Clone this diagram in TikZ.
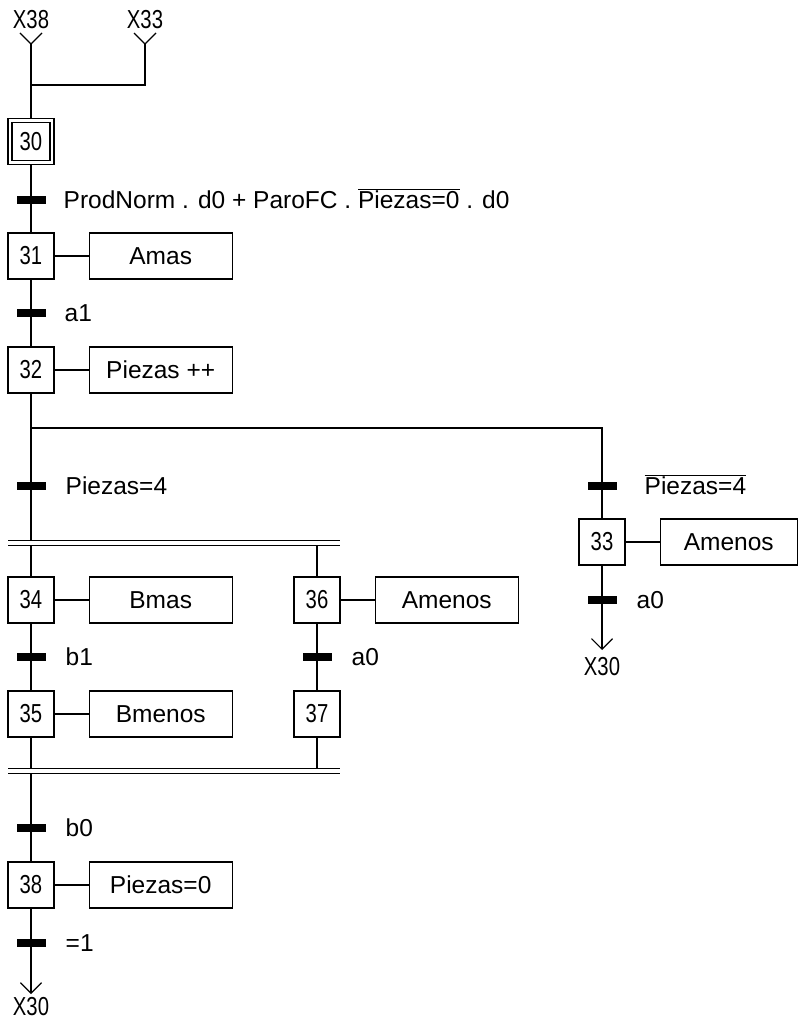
\documentclass[tikz,border=0pt]{standalone}
\usepackage{fontspec}
\setmainfont{Liberation Sans}
\newfontfamily\angosta[FakeStretch=0.78]{Liberation Sans}
\usetikzlibrary{
    arrows.meta,
    positioning
}

\begin{document}
\begin{tikzpicture}[
    x=1pt, y=-1pt,
    line width=1.2pt,
    node distance=34pt,
    etapa/.style={
        draw,
        minimum width=46pt,
        minimum height=46pt,
        inner sep=0pt,
        font=\angosta\fontsize{26}{30}\selectfont
    },
    etapaini/.style={
        etapa,
        double,
        double distance=2.8pt,
        minimum width=42pt,
        minimum height=42pt
    },
    accion/.style={
        draw,
        minimum width=143pt,
        minimum height=46pt,
        inner sep=0pt,
        font=\fontsize{24.5}{29}\selectfont
    },
    barra/.style={
        fill=black,
        minimum width=29pt,
        minimum height=8pt,
        inner sep=0pt
    },
    cond/.style={
        inner sep=0pt,
        text height=18pt,
        text depth=2pt,
        font=\fontsize{24.5}{29}\selectfont
    },
    etiq/.style={
        inner sep=0pt,
        font=\angosta\fontsize{26}{30}\selectfont
    },
    simult/.style={double, double distance=4.5pt},
    flecha/.style={-{Straight Barb[length=10.5pt, width=21pt]}}
]

\useasboundingbox (0,0) rectangle (798,1022);

% entradas
\node[etiq] (x38) at (31,20) {X38};
\node[etiq] (x33) at (145,20) {X33};
\coordinate (v38) at (31,44);
\coordinate (v33) at (145,44);
\coordinate (union) at (31,85);

\node[etapaini] (e30) at (31,141.5) {30};

\node[barra] (t1) at (31,200) {};
\node[cond, right=17pt of t1] (c1)
{ProdNorm . d0 + ParoFC . $\overline{\mbox{Piezas=0}}$ . d0};

\node[etapa] (e31) at (31,256) {31};
\node[accion, right=of e31] (a31) {Amas};

\node[barra] (t2) at (31,313) {};
\node[cond, right=18pt of t2] (c2) {a1};

\node[etapa] (e32) at (31,370) {32};
\node[accion, right=of e32] (a32) {Piezas ++};

% divergencia en O
\coordinate (div) at (31,428);
\coordinate (div33) at (602,428);

\node[barra] (t3) at (31,486) {};
\node[cond, right=19pt of t3] (c3) {Piezas=4};

\node[barra] (t4) at (602,486) {};
\node[cond, right=27pt of t4] (c4) {$\overline{\mbox{Piezas=4}}$};

\node[etapa] (e33) at (602,542) {33};
\node[accion, minimum width=137pt, right=of e33] (a33) {Amenos};

\node[barra] (t9) at (602,600) {};
\node[cond, right=19pt of t9] (c9) {a0};

\coordinate (fin33) at (602,650);
\node[etiq] (x30b) at (602,667) {X30};

% divergencia en Y
\coordinate (p1w) at (8,543);
\coordinate (p1e) at (340,543);

\node[etapa] (e34) at (31,600) {34};
\node[accion, right=of e34] (a34) {Bmas};
\node[etapa] (e36) at (317,600) {36};
\node[accion, right=of e36] (a36) {Amenos};

\node[barra] (t5) at (31,657) {};
\node[cond, right=19pt of t5] (c5) {b1};
\node[barra] (t6) at (317,657) {};
\node[cond, right=19pt of t6] (c6) {a0};

\node[etapa] (e35) at (31,714) {35};
\node[accion, right=of e35] (a35) {Bmenos};
\node[etapa] (e37) at (317,714) {37};

% convergencia en Y
\coordinate (p2w) at (8,771);
\coordinate (p2e) at (340,771);

\node[barra] (t7) at (31,828) {};
\node[cond, right=19pt of t7] (c7) {b0};

\node[etapa] (e38) at (31,885) {38};
\node[accion, right=of e38] (a38) {Piezas=0};

\node[barra] (t8) at (31,943) {};
\node[cond, right=19pt of t8] (c8) {=1};

\coordinate (fin) at (31,994);
\node[etiq] (x30) at (31,1007) {X30};

% enlaces
\draw (v38) ++(-11,-11) -- (v38) -- ++(11,-11);
\draw (v33) ++(-11,-11) -- (v33) -- ++(11,-11);
\draw[shorten >=2pt] (v38) -- (union) -- (e30);
\draw (v33) -- (v33 |- union) -- (union);

\draw[shorten <=2pt] (e30) -- (e31);
\draw (e31) -- (a31);
\draw (e31) -- (e32);
\draw (e32) -- (a32);

\draw (e32) -- (div) -- (div33) -- (e33);
\draw (e33) -- (a33);
\draw[flecha] (e33) -- (fin33);

\draw (div) -- (div |- p1w);
\draw (p1w -| e34) -- (e34);
\draw (p1w -| e36) -- (e36);
\draw[simult] (p1w) -- (p1e);

\draw (e34) -- (a34);
\draw (e36) -- (a36);
\draw (e34) -- (e35);
\draw (e36) -- (e37);
\draw (e35) -- (a35);

\draw (e35) -- (p2w -| e35);
\draw (e37) -- (p2w -| e37);
\draw (p2w -| e38) -- (e38);
\draw[simult] (p2w) -- (p2e);

\draw (e38) -- (a38);
\draw[flecha] (e38) -- (fin);

\end{tikzpicture}
\end{document}
